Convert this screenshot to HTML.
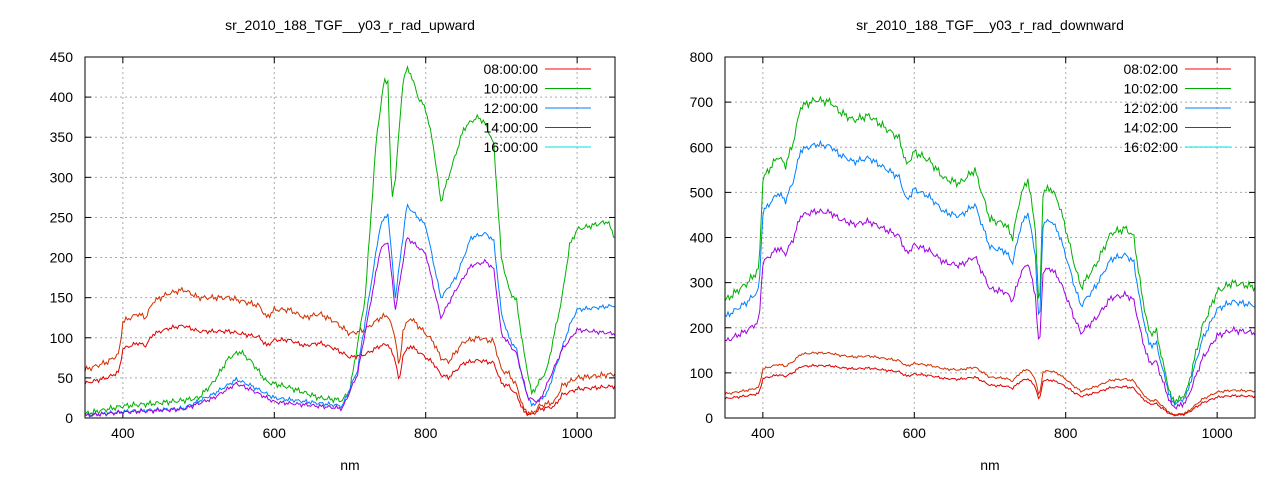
<!DOCTYPE html>
<html><head><meta charset="utf-8"><style>
body{margin:0;background:#fff}
svg{font-family:"Liberation Sans",sans-serif;font-size:14px}
</style></head><body>
<svg id="s" width="1280" height="480" xmlns="http://www.w3.org/2000/svg"></svg>
<script>
const S=document.getElementById('s');let h='';
function interp(k,x){for(let i=0;i<k.length-1;i++){if(x>=k[i][0]&&x<=k[i+1][0]){const t=(x-k[i][0])/(k[i+1][0]-k[i][0]);return k[i][1]+t*(k[i+1][1]-k[i][1]);}}return k[k.length-1][1];}
function P(a){const r=[];for(let i=0;i<a.length;i+=2)r.push([a[i],a[i+1]]);return r;}
function plot(o){
 const {x0,x1,y0,y1,ymax,ystep,title,leg,series}=o;
 const X=v=>x0+(v-350)/700*(x1-x0), Y=v=>y1-v/ymax*(y1-y0);
 for(let v=400;v<=1000;v+=200){h+=`<line x1="${X(v)}" y1="${y0}" x2="${X(v)}" y2="${y1}" stroke="#aaa" stroke-dasharray="2,3"/>`;
  h+=`<line x1="${X(v)}" y1="${y1}" x2="${X(v)}" y2="${y1-6}" stroke="#000"/><line x1="${X(v)}" y1="${y0}" x2="${X(v)}" y2="${y0+6}" stroke="#000"/>`;
  h+=`<text x="${X(v)}" y="${y1+20}" text-anchor="middle">${v}</text>`;}
 for(let v=0;v<=ymax;v+=ystep){const y=Y(v);
  if(v>0&&v<ymax)h+=`<line x1="${x0}" y1="${y}" x2="${x1}" y2="${y}" stroke="#aaa" stroke-dasharray="2,3"/>`;
  h+=`<line x1="${x0}" y1="${y}" x2="${x0+6}" y2="${y}" stroke="#000"/><line x1="${x1}" y1="${y}" x2="${x1-6}" y2="${y}" stroke="#000"/>`;
  h+=`<text x="${x0-12}" y="${y+5}" text-anchor="end">${v}</text>`;}
 series.forEach((s,j)=>{let pts=[];for(let x=350;x<=1050;x+=2){let v=interp(s.k,x)*s.m+Math.sin(x*1.7+j)*s.n+Math.sin(x*0.61)*s.n;pts.push(X(x).toFixed(1)+','+Y(Math.max(v,0)).toFixed(1));}
  h+=`<polyline points="${pts.join(' ')}" fill="none" stroke="${s.c}" stroke-width="1"/>`;});
 const cols=['#ff0000','#00b000','#0080ff','#a000e0','#00e0e0'];
 leg.forEach((t,i)=>{const y=y0+12+i*19.5;h+=`<text x="${x1-77}" y="${y+5}" text-anchor="end">${t}</text><line x1="${x1-70}" y1="${y}" x2="${x1-24}" y2="${y}" stroke="${cols[i]}"/>`;});
 h+=`<rect x="${x0}" y="${y0}" width="${x1-x0}" height="${y1-y0}" fill="none" stroke="#000"/>`;
 h+=`<text x="${(x0+x1)/2}" y="30" text-anchor="middle">${title}</text><text x="${(x0+x1)/2}" y="470" text-anchor="middle">nm</text>`;
}
const LR=P([350,60,380,70,395,80,400,120,420,130,430,125,440,145,460,155,480,160,500,150,540,150,560,145,580,140,590,125,600,135,620,135,640,125,660,130,680,120,700,105,720,110,740,125,750,128,760,100,765,60,770,110,780,125,790,115,800,105,810,95,820,75,830,70,850,95,870,100,890,95,900,60,910,55,920,40,930,10,940,5,950,15,970,20,980,40,1000,50,1050,55]);
const LG=P([350,5,400,15,440,18,480,22,500,25,520,45,540,75,555,83,570,70,590,45,620,38,660,25,690,22,700,35,720,150,735,350,745,420,750,420,755,270,760,300,770,420,775,435,780,430,790,400,800,385,810,340,820,270,830,300,850,360,860,370,870,375,880,365,890,340,900,200,910,160,920,145,930,80,940,30,950,45,960,60,980,150,990,215,1000,235,1020,240,1040,245,1050,225]);
const LB=P([350,3,400,8,480,12,520,30,550,48,570,40,600,25,690,15,710,60,740,240,750,255,760,150,775,265,800,240,820,150,840,175,860,225,880,230,890,220,900,130,910,100,920,85,930,40,940,15,960,30,990,115,1000,135,1050,140]);
const LP=P([350,3,400,7,480,11,520,25,550,43,570,35,600,20,690,12,710,55,740,210,750,220,760,135,775,225,800,205,820,125,840,160,860,190,880,195,890,185,900,105,920,80,935,25,950,20,980,85,1000,110,1050,105]);
plot({x0:85,x1:615,y0:57,y1:418,ymax:450,ystep:50,title:'sr_2010_188_TGF__y03_r_rad_upward',
 leg:['08:00:00','10:00:00','12:00:00','14:00:00','16:00:00'],
 series:[{k:LR,m:1,n:2,c:'#d03000'},{k:LR,m:0.72,n:1.5,c:'#e00000'},{k:LG,m:1,n:2,c:'#00b000'},{k:LB,m:1,n:1.5,c:'#0080ff'},{k:LP,m:1,n:1.5,c:'#a000e0'}]});
const RG=P([350,260,380,300,395,330,400,530,420,580,430,560,440,610,450,690,470,705,490,700,500,680,520,660,540,670,560,645,580,620,590,560,600,590,620,570,640,530,660,520,680,550,700,440,720,430,730,400,740,490,750,530,760,420,765,220,770,500,780,510,790,480,800,420,810,350,820,290,840,340,860,410,880,420,890,400,900,280,910,190,920,190,930,110,940,40,950,40,960,60,980,200,1000,280,1020,300,1050,290]);
plot({x0:725,x1:1255,y0:57,y1:418,ymax:800,ystep:100,title:'sr_2010_188_TGF__y03_r_rad_downward',
 leg:['08:02:00','10:02:00','12:02:00','14:02:00','16:02:00'],
 series:[{k:RG,m:0.205,n:1.5,c:'#d03000'},{k:RG,m:0.165,n:1.5,c:'#e00000'},{k:RG,m:1,n:5,c:'#00b000'},{k:RG,m:0.86,n:4,c:'#0080ff'},{k:RG,m:0.65,n:4,c:'#a000e0'}]});
S.innerHTML=h;
</script>
</body></html>
